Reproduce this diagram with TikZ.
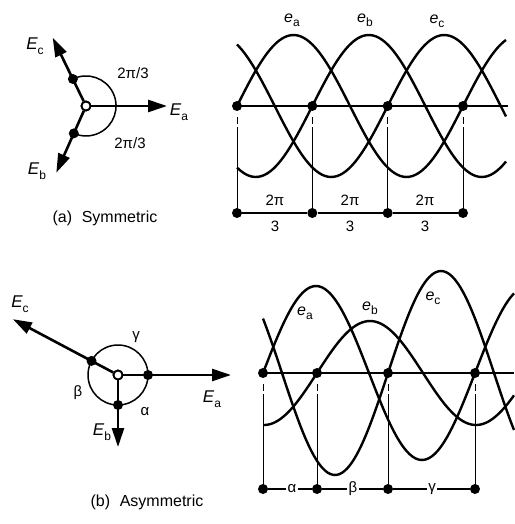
\documentclass[tikz,border=0pt]{standalone}
\usepackage{fontspec}
\setmainfont{Liberation Sans}
\usetikzlibrary{arrows.meta}
\newcommand{\phsym}[2]{{\fontsize{17}{20}\selectfont\itshape #1}\raisebox{-4.5pt}{\fontsize{12}{14}\selectfont #2}}
\newcommand{\wvsym}[2]{{\fontsize{16}{19}\selectfont\itshape #1}\raisebox{-4pt}{\fontsize{12}{14}\selectfont #2}}
\begin{document}
\begin{tikzpicture}[x=1pt,y=-1pt,
  phasor/.style={line width=2.6pt,-{Triangle[length=19pt,width=12pt]}},
  wave/.style={line width=2.4pt,smooth,samples=90},
  axisline/.style={line width=2.4pt},
  dimline/.style={line width=1.1pt},
  guide/.style={line width=0.9pt,dash pattern={on 7pt off 3pt on 400pt}},
  arcline/.style={line width=1.5pt},
  dot/.style={circle,fill,inner sep=0pt,minimum size=10pt},
  hub/.style={circle,draw,fill=white,line width=1.8pt,inner sep=0pt,minimum size=9pt},
  lbl/.style={font=\fontsize{15}{17}\selectfont,inner sep=0pt},
  captext/.style={font=\fontsize{16}{19}\selectfont,inner sep=0pt},
  gaplbl/.style={font=\fontsize{15}{17}\selectfont,fill=white,inner sep=1.5pt}
]
\useasboundingbox (0,0) rectangle (514,524);

% ---------------- (a) phasors ----------------
\coordinate (aEa) at (167,106);
\coordinate (aEc) at (52.7,37.7);
\coordinate (aEb) at (56.3,172.7);
\node[hub] (ha) at (86,106) {};
\draw[phasor] (ha) -- (aEa);
\draw[phasor] (ha) -- (aEc);
\draw[phasor] (ha) -- (aEb);
\draw[arcline] (72.9,79) arc[start angle=-116,end angle=114,radius=30];
\node[dot] (ac1) at (72.9,79) {};
\node[dot] (ab1) at (73.8,133.4) {};
\node[hub] at (86,106) {};
\node[inner sep=0pt] (laEa) at (179,112) {\phsym{E}{a}};
\node[inner sep=0pt] (laEc) at (35,46) {\phsym{E}{c}};
\node[inner sep=0pt] (laEb) at (37,171) {\phsym{E}{b}};
\node[lbl] (aang1) at (133,73) {2π/3};
\node[lbl] (aang2) at (130,143) {2π/3};
\node[captext] (capa) at (105,218) {(a)\hspace{0.6em}Symmetric};

% ---------------- (a) waves ----------------
\draw[wave,domain=237:506] plot (\x,{106-71*sin(1.59292*(\x-237))});
\draw[wave,domain=237:506] plot (\x,{106-71*sin(1.59292*(\x-312.3))});
\draw[wave,domain=237:506] plot (\x,{106-71*sin(1.59292*(\x-387.7))});
\node[dot] (ad1) at (237,106) {};
\node[dot] (ad2) at (312.3,106) {};
\node[dot] (ad3) at (387.7,106) {};
\node[dot] (ad4) at (463,106) {};
\coordinate (aend) at (508,106);
\draw[axisline] (ad1.center) -- (aend);
\node[dot] (ab1d) at (237,213) {};
\node[dot] (ab2d) at (312.3,213) {};
\node[dot] (ab3d) at (387.7,213) {};
\node[dot] (ab4d) at (463,213) {};
\draw[dimline] (ab1d) -- (ab2d) -- (ab3d) -- (ab4d);
\foreach \n in {1,2,3,4}{
  \draw[guide] ([yshift=-11pt]ad\n.center) -- (ab\n d.center);
}
\node[lbl] at (275,200) {2π};
\node[lbl] at (350,200) {2π};
\node[lbl] at (425,200) {2π};
\node[lbl] at (275,226) {3};
\node[lbl] at (350,226) {3};
\node[lbl] at (425,226) {3};
\node[inner sep=0pt] (wea) at (292,20) {\wvsym{e}{a}};
\node[inner sep=0pt] (web) at (365,20) {\wvsym{e}{b}};
\node[inner sep=0pt] (wec) at (437,21) {\wvsym{e}{c}};

% ---------------- (b) phasors ----------------
\coordinate (bEa) at (231,375);
\coordinate (bEb) at (118,447);
\coordinate (bEc) at (12.9,319.2);
\node[hub] (hb) at (118,375) {};
\draw[phasor] (hb) -- (bEa);
\draw[phasor] (hb) -- (bEb);
\draw[phasor] (hb) -- (bEc);
\draw[arcline] (hb.center) circle[radius=30];
\node[dot] (bd1) at (148,375) {};
\node[dot] (bd2) at (118,405) {};
\node[dot] (bd3) at (91.5,360.9) {};
\node[hub] at (118,375) {};
\node[inner sep=0pt] (lbEa) at (212,399) {\phsym{E}{a}};
\node[inner sep=0pt] (lbEb) at (102,432) {\phsym{E}{b}};
\node[inner sep=0pt] (lbEc) at (20,304) {\phsym{E}{c}};
\node[lbl] (bgam) at (136,337) {γ};
\node[lbl] (bbet) at (78,393) {β};
\node[lbl] (balp) at (145,412) {α};
\node[captext] (capb) at (147,502) {(b)\hspace{0.6em}Asymmetric};

% ---------------- (b) waves ----------------
\draw[wave,domain=263:514] plot (\x,{373-87*sin(1.69811*(\x-263))});
\draw[wave,domain=263:514] plot (\x,{373-52*sin(1.69811*(\x-317))});
\draw[wave,domain=263:514] plot (\x,{373-102*sin(1.69811*(\x-388))});
\node[dot] (bx1) at (263,373) {};
\node[dot] (bx2) at (317,373) {};
\node[dot] (bx3) at (388,373) {};
\node[dot] (bx4) at (475,373) {};
\coordinate (bend) at (514,373);
\draw[axisline] (bx1.center) -- (bend);
\node[dot] (bb1) at (263,489) {};
\node[dot] (bb2) at (317,489) {};
\node[dot] (bb3) at (388,489) {};
\node[dot] (bb4) at (475,489) {};
\draw[dimline] (bb1) -- (bb2) -- (bb3) -- (bb4);
\foreach \n in {1,2,3,4}{
  \draw[guide] ([yshift=-11pt]bx\n.center) -- (bb\n.center);
}
\node[gaplbl] at (292,489) {α};
\node[gaplbl] at (353,489) {β};
\node[gaplbl] at (432,489) {γ};
\node[inner sep=0pt] (wba) at (305,313) {\wvsym{e}{a}};
\node[inner sep=0pt] (wbb) at (370,308) {\wvsym{e}{b}};
\node[inner sep=0pt] (wbc) at (433,298) {\wvsym{e}{c}};
\end{tikzpicture}
\end{document}
